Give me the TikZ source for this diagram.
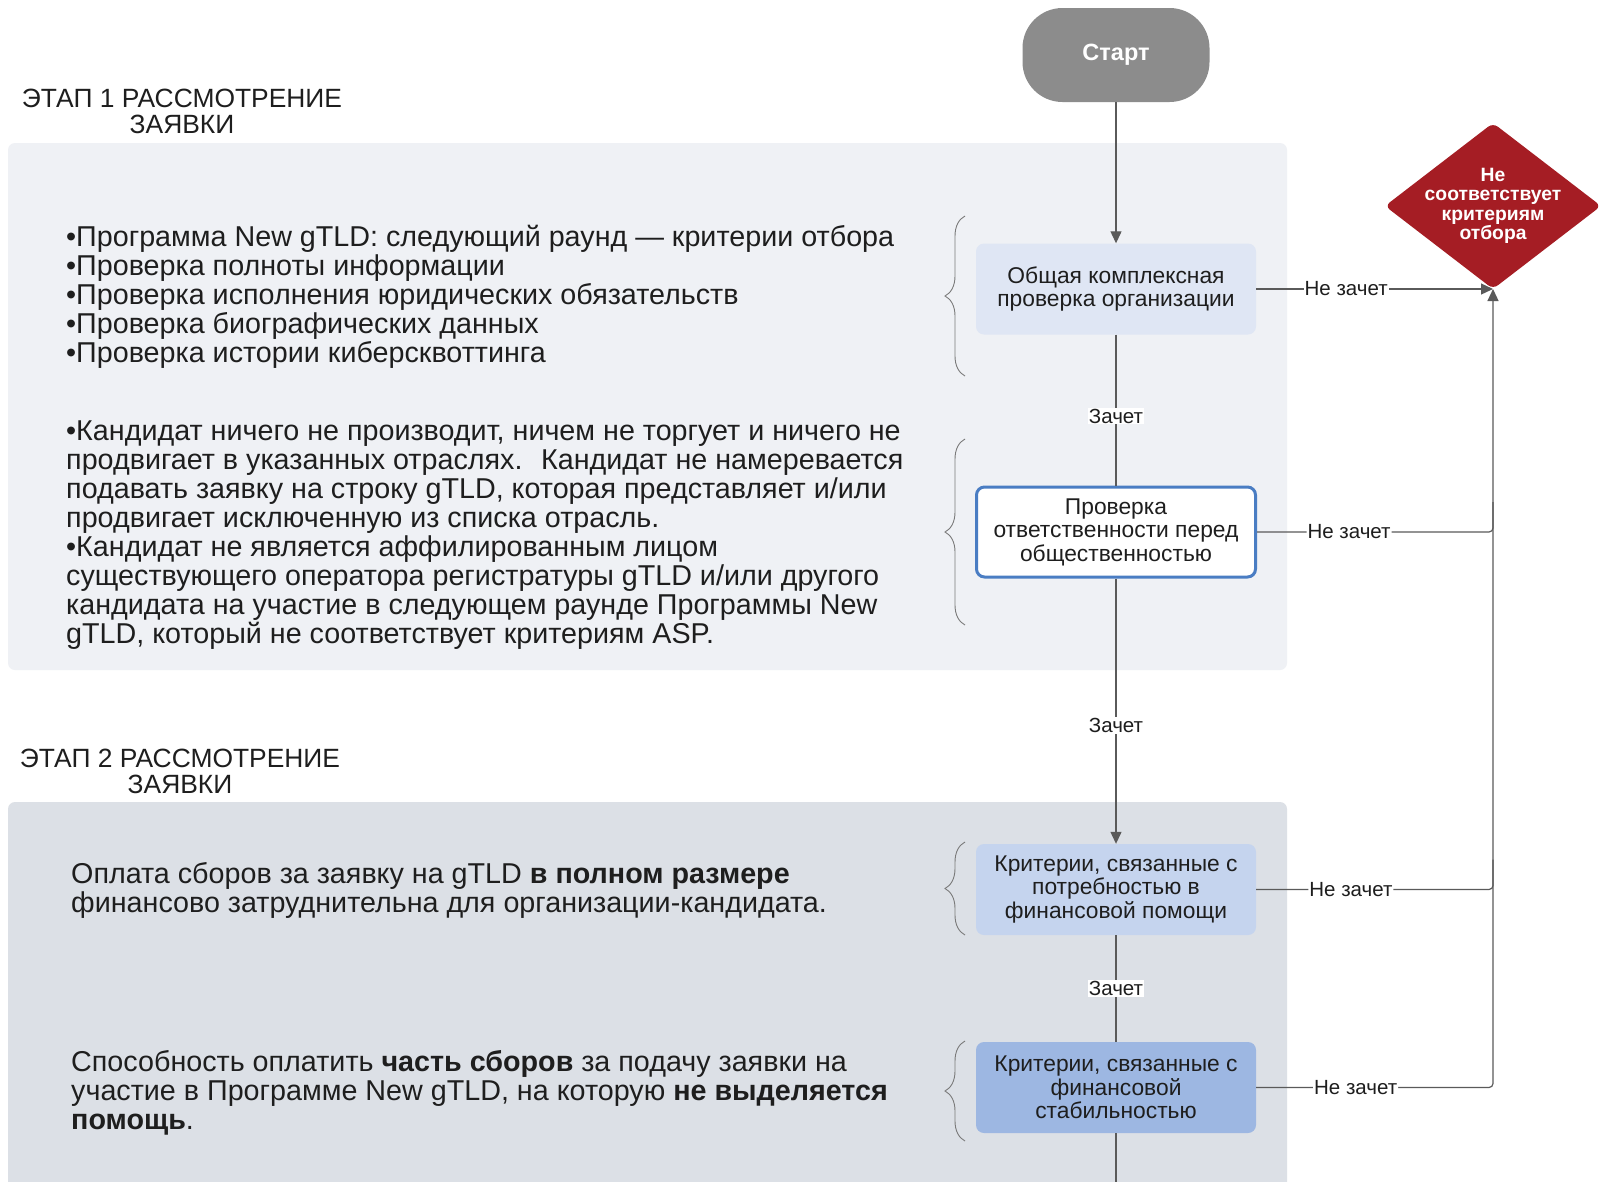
\documentclass[tikz,border=0pt]{standalone}
\usepackage{fontspec}
\setmainfont{Liberation Sans}
\usetikzlibrary{arrows.meta,decorations.pathreplacing,calc}
\definecolor{panelone}{HTML}{EFF1F5}
\definecolor{paneltwo}{HTML}{DCE0E6}
\definecolor{boxa}{HTML}{DFE6F4}
\definecolor{boxc}{HTML}{C5D4EE}
\definecolor{boxd}{HTML}{9DB7E2}
\definecolor{borderb}{HTML}{4A7DC3}
\definecolor{startc}{HTML}{8C8C8C}
\definecolor{diared}{HTML}{A51D24}
\definecolor{linec}{HTML}{5A5A5A}
\definecolor{bracec}{HTML}{7A7A7A}
\definecolor{txt}{HTML}{1E1E1E}
\newcommand{\fsz}[2]{\fontsize{#1}{#2}\selectfont}
\begin{document}
\begin{tikzpicture}[x=1pt,y=-1pt,
  flowbox/.style={rectangle, rounded corners=8pt, minimum width=280pt, minimum height=91pt, align=center, inner sep=0pt, text=txt, font=\fsz{22.8}{23.5}},
  conn/.style={draw=linec, line width=1.2pt},
  tip/.style={-{Triangle[width=11pt,length=12pt]}},
  lbl/.style={fill=white, inner sep=1pt, text=txt, font=\fsz{20.5}{22}},
  bodytext/.style={anchor=west, align=left, inner sep=0pt, text=txt, font=\fsz{28.7}{29}},
  stagetitle/.style={align=center, inner sep=0pt, text=txt, font=\fsz{26.4}{26}},
  bracestyle/.style={draw=bracec, line width=0.9pt, decorate, decoration={brace, amplitude=20pt}},
]
\clip (0,0) rectangle (1601,1181);
\fill[white] (0,0) rectangle (1601,1181);
% panels
\fill[panelone, rounded corners=7pt] (8,143) rectangle (1287,670);
\fill[paneltwo, rounded corners=7pt] (8,802) rectangle (1287,1200);
% titles
\node[stagetitle] (t1) at (182,111) {ЭТАП 1 РАССМОТРЕНИЕ\\ЗАЯВКИ};
\node[stagetitle] (t2) at (180,771) {ЭТАП 2 РАССМОТРЕНИЕ\\ЗАЯВКИ};
% body texts
\node[bodytext] (b1) at (66,297) {•Программа New gTLD: следующий раунд — критерии отбора\\
•Проверка полноты информации\\
•Проверка исполнения юридических обязательств\\
•Проверка биографических данных\\
•Проверка истории киберсквоттинга};
\node[bodytext] (b2) at (66,535) {•Кандидат ничего не производит, ничем не торгует и ничего не\\
продвигает в указанных отраслях.~ Кандидат не намеревается\\
подавать заявку на строку gTLD, которая представляет и/или\\
продвигает исключенную из списка отрасль.\\
•Кандидат не является аффилированным лицом\\
существующего оператора регистратуры gTLD и/или другого\\
кандидата на участие в следующем раунде Программы New\\
gTLD, который не соответствует критериям ASP.};
\node[bodytext] (b3) at (71,890) {Оплата сборов за заявку на gTLD \textbf{в полном размере}\\
финансово затруднительна для организации-кандидата.};
\node[bodytext] (b4) at (71,1093) {Способность оплатить \textbf{часть сборов} за подачу заявки на\\
участие в Программе New gTLD, на которую \textbf{не выделяется}\\
\textbf{помощь}.};
% braces
\draw[bracestyle] (965,376) -- (965,216);
\draw[bracestyle] (965,625) -- (965,439);
\draw[bracestyle] (965,935) -- (965,842);
\draw[bracestyle] (965,1141) -- (965,1041);
% flow nodes
\node[rectangle, rounded corners=40pt, minimum width=187pt, minimum height=94pt, fill=startc, text=white, font=\bfseries\fsz{23.5}{26}] (start) at (1116,55) {Старт};
\node[flowbox, fill=boxa] (A) at (1116,289) {Общая комплексная\\проверка организации};
\node[flowbox, fill=white, draw=borderb, line width=3pt, minimum width=279pt, minimum height=90pt] (B) at (1116,532) {Проверка\\ответственности перед\\общественностью};
\node[flowbox, fill=boxc] (C) at (1116,889.5) {Критерии, связанные с\\потребностью в\\финансовой помощи};
\node[flowbox, fill=boxd] (D) at (1116,1087.5) {Критерии, связанные с\\финансовой\\стабильностью};
% diamond
\fill[diared, rounded corners=6pt] (1385,206) -- (1493,123) -- (1601,206) -- (1493,289) -- cycle;
\node[align=center, inner sep=0pt, text=white, font=\bfseries\fsz{19.3}{19.5}] (dia) at (1493,206) {Не\\соответствует\\критериям\\отбора};
\coordinate (diabot) at (1493,289);
\coordinate (bot) at (1116,1195);
% connectors
\draw[conn,tip] (start) -- (A);
\draw[conn] (A) -- node[lbl,pos=0.54]{Зачет} (B);
\draw[conn,tip] (B) -- node[lbl,pos=0.555]{Зачет} (C);
\draw[conn] (C) -- node[lbl]{Зачет} (D);
\draw[conn] (D) -- (bot);
\draw[conn,tip] (A.east) -- node[lbl,pos=0.38]{Не зачет} (diabot);
\draw[conn,rounded corners=4pt] (B.east) -- node[lbl,pos=0.39]{Не зачет} (B.east -| diabot) -- ++(0,-30);
\draw[conn,rounded corners=4pt] (C.east) -- node[lbl,pos=0.40]{Не зачет} (C.east -| diabot) -- ++(0,-30);
\draw[conn,tip,rounded corners=4pt] (D.east) -- node[lbl,pos=0.42]{Не зачет} (D.east -| diabot) -- (diabot);
\end{tikzpicture}
\end{document}
